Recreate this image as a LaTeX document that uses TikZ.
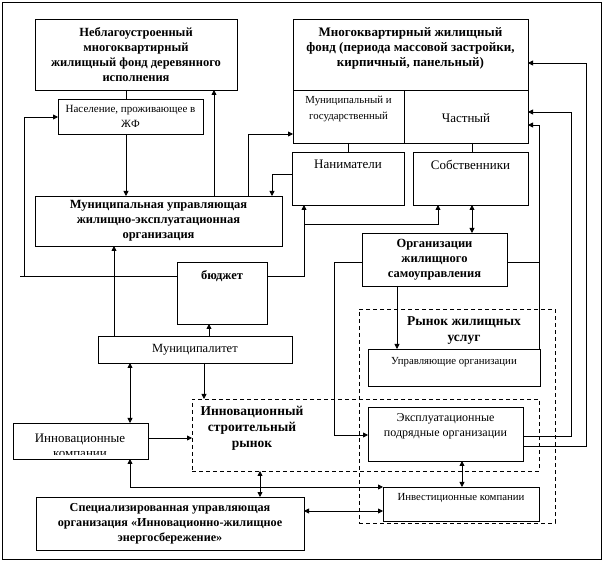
\documentclass[tikz,border=0pt]{standalone}
\usepackage{fontspec}
\setmainfont{Liberation Serif}
\usetikzlibrary{arrows.meta}
\newcommand{\bxt}[4]{\parbox[t][#2][t]{#1}{\vspace*{#3}\centering #4\par}}
\newcommand{\bxc}[3]{\parbox[t][#2][c]{#1}{\centering #3\par}}
\tikzset{
  box/.style={draw, line width=0.8pt, inner sep=0pt, outer sep=0pt, anchor=north west, fill=white},
  dbox/.style={draw, line width=0.8pt, dash pattern=on 4pt off 3pt, inner sep=0pt, outer sep=0pt, anchor=north west},
  fb/.style={font=\fontsize{12.5}{15}\selectfont\bfseries},
  fbl/.style={font=\fontsize{13.5}{16}\selectfont\bfseries},
  fr/.style={font=\fontsize{12}{15}\selectfont},
  frl/.style={font=\fontsize{13}{15}\selectfont},
  frs/.style={font=\fontsize{11}{15}\selectfont},
  fs/.style={font=\fontsize{10.8}{16}\selectfont},
  ln/.style={line width=0.8pt},
  arr/.style={ln, -{Triangle[length=5pt,width=5pt]}},
  darr/.style={ln, {Triangle[length=5pt,width=5pt]}-{Triangle[length=5pt,width=5pt]}},
}
\begin{document}
\begin{tikzpicture}[x=1pt,y=-1pt]
\useasboundingbox (0,0) rectangle (603,561);
\fill[white] (0,0) rectangle (603,561);
\draw[ln] (2,2) rectangle (601,559);
% dashed regions
\node[dbox, minimum width=196pt, minimum height=214pt] (rz) at (359,309) {};
\node[dbox, minimum width=347pt, minimum height=72pt] (is) at (192,399) {};
\node[fbl, align=center] (rzT) at (464,331) {Рынок жилищных\\услуг};
\node[fbl, align=center] (isT) at (252,428) {Инновационный\\строительный\\рынок};
% boxes
\node[box, fb] (a) at (35,19) {\bxc{202pt}{71pt}{Неблагоустроенный\\многоквартирный\\жилищный фонд деревянного\\исполнения}};
\node[box, frs] (b) at (58,99) {\bxc{145pt}{35pt}{Население, проживающее в\\ЖФ}};
\node[box, fb] (m) at (293,19) {\bxt{235pt}{71pt}{9pt}{\fontsize{13}{15}\selectfont Многоквартирный жилищный\\фонд (периода массовой застройки,\\кирпичный, панельный)}};
\node[box, fs] (mg) at (293,90) {\bxt{111pt}{53pt}{6pt}{Муниципальный и\\государственный}};
\node[box, frl] (ch) at (404,90) {\bxt{124pt}{53pt}{24pt}{Частный}};
\node[box, frl] (n) at (292,152) {\bxt{112pt}{53pt}{8pt}{Наниматели}};
\node[box, frl] (s) at (413,152) {\bxt{115pt}{53pt}{8pt}{Собственники}};
\node[box, fb] (c) at (35,196) {\bxc{247pt}{50pt}{Муниципальная управляющая\\жилищно-эксплуатационная\\организация}};
\node[box, fb] (bu) at (177,262) {\bxt{90pt}{62pt}{9pt}{бюджет}};
\node[box, fb] (o) at (362,233) {\bxc{145pt}{53pt}{Организации\\жилищного\\самоуправления}};
\node[box, font=\fontsize{12.5}{15}\selectfont] (mu) at (98,336) {\bxc{194pt}{27pt}{Муниципалитет}};
\node[box, fs] (uo) at (368,349) {\bxt{172pt}{37pt}{8pt}{Управляющие организации}};
\node[box, fr] (ex) at (368,407) {\bxt{155pt}{54pt}{7pt}{Эксплуатационные\\подрядные организации}};
\node[box, minimum width=135pt, minimum height=36pt] (ik) at (13,423) {};
\begin{scope}
\clip (ik.north west) rectangle ([yshift=4pt]ik.south east);
\node[frl, align=center] (ikT) at (80,446) {Инновационные\\компании};
\end{scope}
\node[box, font=\fontsize{12.2}{15}\selectfont\bfseries] (sp) at (36,497) {\bxc{268pt}{53pt}{Специализированная управляющая\\организация «Инновационно-жилищное\\энергосбережение»}};
\node[box, fs] (iv) at (383,487) {\bxt{156pt}{34pt}{6pt}{Инвестиционные компании}};
% connectors
\draw[ln] (a.south -| 126,0) -- (b.north -| 126,0);
\draw[arr] (b.south -| 126,0) -- (c.north -| 126,0);
\draw[arr] (c.north -| 214,0) -- (a.south -| 214,0);
\draw[arr] (c.north -| 248,0) |- (mg.west |- 0,134);
\draw[arr] (n.west |- 0,174) -| (c.north -| 272,0);
\draw[ln] (mg.south -| 348,0) -- (n.north -| 348,0);
\draw[ln] (ch.south -| 472,0) -- (s.north -| 472,0);
\draw[arr] (bu.west |- 0,276) -| (24,117) -- (b.west |- 0,117);
\draw[ln] (24,276) -- (20,276);
\draw[arr] (bu.east |- 0,276) -| (n.south -| 304,0);
\draw[arr] (304,224) -| (s.south -| 438,0);
\draw[arr] (mu.north -| 114,0) -- (c.south -| 114,0);
\draw[arr] (mu.north -| 209,0) -- (bu.south -| 209,0);
\draw[darr] (mu.south -| 130,0) -- (ik.north -| 130,0);
\draw[arr] (mu.south -| 204,0) -- (is.north -| 204,0);
\draw[arr] (ik.east |- 0,438) -- (is.west |- 0,438);
\draw[darr] (is.south -| 260,0) -- (sp.north -| 260,0);
\draw[darr] (ik.south -| 130,0) |- (iv.west |- 0,487);
\draw[darr] (sp.east |- 0,511) -- (iv.west |- 0,511);
\draw[darr] (ex.south -| 462,0) -- (iv.north -| 462,0);
\draw[darr] (s.south -| 472,0) -- (o.north -| 472,0);
\draw[arr] (o.south -| 397,0) -- (uo.north -| 397,0);
\draw[arr] (o.west |- 0,262) -| (334,435) -- (ex.west |- 0,435);
\draw[arr] (uo.north -| 539,0) |- (ch.east |- 0,125);
\draw[ln] (o.east |- 0,262) -- (539,262);
\draw[arr] (ex.east |- 0,436) -| (571,112) -- (ch.east |- 0,112);
\draw[arr] (ex.east |- 0,446) -| (586,63) -- (m.east |- 0,63);
\end{tikzpicture}
\end{document}
